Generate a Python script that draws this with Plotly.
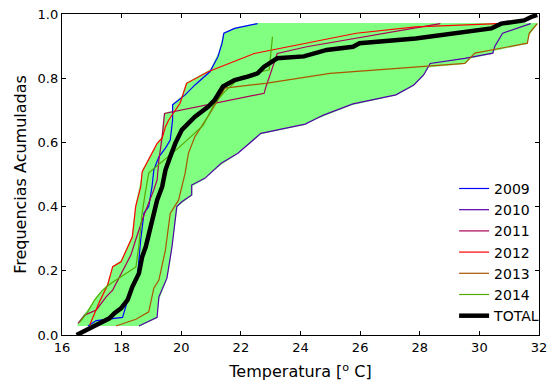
import numpy as np
import plotly.graph_objects as go

# ---- data (temperature [°C], cumulative frequency) ----
x2009 = [16.87, 17.15, 18.03, 18.20, 18.53, 18.64, 18.75, 18.91, 19.02, 19.08, 19.25, 19.47, 19.63, 19.71, 19.71, 20.13, 20.46, 20.96, 21.23, 21.37, 21.43, 21.79, 22.56]
y2009 = [0.028, 0.045, 0.055, 0.107, 0.182, 0.296, 0.380, 0.400, 0.462, 0.514, 0.555, 0.582, 0.607, 0.670, 0.717, 0.748, 0.779, 0.820, 0.867, 0.909, 0.940, 0.955, 0.970]

x2010 = [18.58, 19.19, 19.25, 19.52, 19.69, 19.85, 20.02, 20.35, 20.35, 20.79, 21.34, 21.90, 22.67, 23.44, 24.16, 24.55, 24.77, 25.76, 27.20, 27.80, 28.13, 28.35, 29.51, 30.45, 30.51, 30.78, 31.72]
y2010 = [0.028, 0.055, 0.119, 0.177, 0.275, 0.400, 0.415, 0.436, 0.467, 0.488, 0.535, 0.566, 0.628, 0.644, 0.657, 0.675, 0.685, 0.720, 0.748, 0.779, 0.810, 0.846, 0.862, 0.878, 0.898, 0.940, 0.970]

x2011 = [16.54, 16.76, 17.15, 17.48, 17.70, 18.31, 18.47, 18.75, 19.08, 19.19, 19.25, 19.36, 19.44, 22.78, 22.83, 23.22, 24.21, 28.69]
y2011 = [0.036, 0.062, 0.078, 0.119, 0.140, 0.249, 0.296, 0.374, 0.452, 0.483, 0.545, 0.618, 0.690, 0.753, 0.770, 0.877, 0.898, 0.970]

x2012 = [16.93, 17.26, 17.53, 17.70, 17.98, 18.25, 18.36, 18.47, 18.64, 18.69, 19.02, 19.19, 19.36, 19.47, 19.58, 19.96, 20.18, 20.90, 22.45, 23.55, 25.87, 27.86, 30.62]
y2012 = [0.031, 0.104, 0.156, 0.213, 0.228, 0.280, 0.306, 0.400, 0.462, 0.509, 0.566, 0.597, 0.613, 0.649, 0.670, 0.722, 0.784, 0.820, 0.877, 0.898, 0.940, 0.960, 0.970]

x2013 = [17.81, 18.48, 18.91, 19.08, 19.25, 19.47, 19.63, 19.91, 20.13, 20.24, 20.46, 20.68, 20.96, 21.23, 21.46, 22.83, 23.88, 24.99, 29.51, 29.85, 31.61, 31.67, 31.94]
y2013 = [0.028, 0.049, 0.072, 0.146, 0.171, 0.265, 0.379, 0.420, 0.504, 0.566, 0.618, 0.649, 0.690, 0.732, 0.769, 0.784, 0.800, 0.815, 0.846, 0.878, 0.909, 0.940, 0.970]

x2014 = [16.60, 16.86, 17.09, 17.36, 17.66, 18.48, 18.58, 18.68, 18.78, 18.91, 19.91, 20.74, 21.12, 21.46, 22.01, 22.95, 23.06]
y2014 = [0.040, 0.072, 0.109, 0.140, 0.162, 0.212, 0.280, 0.374, 0.436, 0.505, 0.583, 0.654, 0.722, 0.758, 0.805, 0.826, 0.929]

xtot = [16.49, 16.82, 17.15, 17.37, 17.59, 17.76, 17.98, 18.20, 18.36, 18.58, 18.69, 18.81, 18.91, 19.08, 19.19, 19.36, 19.47, 19.63, 19.80, 20.02, 20.35, 20.46, 20.90, 21.12, 21.40, 21.79, 22.23, 22.56, 22.78, 23.22, 24.11, 24.88, 25.76, 25.98, 27.86, 30.40, 30.73, 31.50, 31.72, 31.94]
ytot = [0.000, 0.016, 0.031, 0.041, 0.052, 0.068, 0.083, 0.109, 0.150, 0.192, 0.244, 0.275, 0.312, 0.379, 0.420, 0.462, 0.514, 0.555, 0.597, 0.639, 0.670, 0.680, 0.711, 0.732, 0.774, 0.794, 0.805, 0.815, 0.836, 0.862, 0.868, 0.888, 0.898, 0.909, 0.924, 0.955, 0.970, 0.980, 0.990, 0.997]

years = ["2009", "2010", "2011", "2012", "2013", "2014"]
xs = [x2009, x2010, x2011, x2012, x2013, x2014]
ys = [y2009, y2010, y2011, y2012, y2013, y2014]
colors = ["#0000ff", "#5500aa", "#aa0055", "#ff0000", "#aa5500", "#55aa00"]

xticks = [16, 18, 20, 22, 24, 26, 28, 30, 32]
yticks = [0.0, 0.2, 0.4, 0.6, 0.8, 1.0]

# ---- envelope (min / max over years) ----
ygrid = np.linspace(0.028, 0.970, 400)
interp = np.array([np.interp(ygrid, yy, xx) for xx, yy in zip(xs, ys)])
xmin = interp.min(axis=0)
xmax = interp.max(axis=0)

fig = go.Figure()
fig.add_trace(go.Scatter(
    x=np.concatenate([xmin, xmax[::-1]]),
    y=np.concatenate([ygrid, ygrid[::-1]]),
    fill="toself", fillcolor="#80ff80",
    line=dict(color="#80ff80", width=1.5),
    mode="lines", showlegend=False, hoverinfo="skip"))

for name, xx, yy, c in zip(years, xs, ys, colors):
    fig.add_trace(go.Scatter(x=xx, y=yy, mode="lines", name=name,
                             line=dict(color=c, width=1.2)))

fig.add_trace(go.Scatter(x=xtot, y=ytot, mode="lines", name="TOTAL",
                         line=dict(color="black", width=4.5)))

axis_common = dict(showline=True, linecolor="black", linewidth=1.3, mirror="allticks",
                   ticks="inside", ticklen=4, tickwidth=1, tickcolor="black",
                   showgrid=False, zeroline=False, automargin=False,
                   tickfont=dict(family="DejaVu Sans", size=13, color="black"))

fig.update_layout(
    width=556, height=385,
    margin=dict(l=62, r=11, t=14, b=50),
    paper_bgcolor="white", plot_bgcolor="white",
    font=dict(family="DejaVu Sans", color="black"),
    xaxis=dict(range=[16, 32], tickvals=xticks, ticktext=[str(t) for t in xticks],
               title=dict(text="Temperatura [<sup>o</sup> C]", font=dict(size=16), standoff=12),
               **axis_common),
    yaxis=dict(range=[0, 1], tickvals=yticks, ticktext=["%.1f" % t for t in yticks],
               title=dict(text="Frequencias Acumuladas", font=dict(size=16), standoff=6),
               **axis_common),
    legend=dict(x=0.822, y=0.505, xanchor="left", yanchor="top",
                bgcolor="rgba(0,0,0,0)", borderwidth=0,
                font=dict(family="DejaVu Sans", size=14, color="black"),
                tracegroupgap=0),
)

fig.write_html("out.html")
